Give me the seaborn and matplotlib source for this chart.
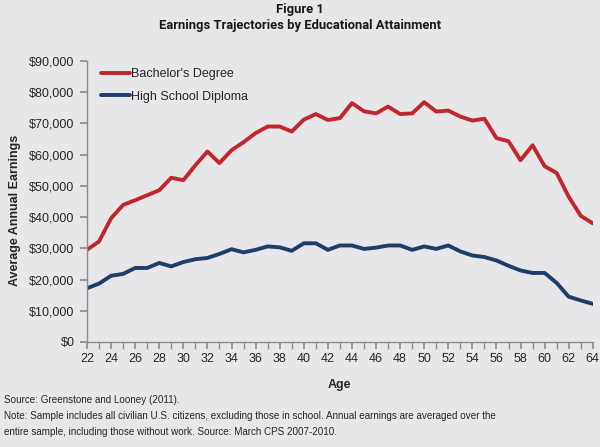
import matplotlib
matplotlib.use("Agg")
import matplotlib.pyplot as plt
import seaborn as sns
import pandas as pd
import numpy as np
from matplotlib.ticker import FuncFormatter, MultipleLocator

ages = list(range(22, 65))
bachelors = [29500, 32200, 39600, 43900, 45400, 47000, 48600, 52600, 51800, 56600,
             61000, 57300, 61400, 64000, 66900, 69000, 69000, 67400, 71200, 73000,
             71100, 71700, 76500, 73900, 73200, 75400, 73000, 73200, 76800, 73800,
             74100, 72200, 70900, 71500, 65300, 64300, 58200, 63000, 56300, 54100,
             46500, 40400, 38000]
high_school = [17200, 18700, 21200, 21800, 23700, 23700, 25300, 24200, 25600, 26500,
               26900, 28200, 29700, 28700, 29500, 30600, 30300, 29200, 31600, 31600,
               29500, 30900, 30900, 29800, 30200, 30900, 30900, 29500, 30600, 29800,
               30900, 29000, 27700, 27200, 26100, 24400, 22900, 22100, 22100, 18900,
               14500, 13300, 12200]
series_names = ["Bachelor's Degree", "High School Diploma"]
colors = ["#c0272d", "#1f3d6b"]

df = pd.DataFrame({
    "Age": ages * 2,
    "Earnings": bachelors + high_school,
    "Series": [series_names[0]] * len(ages) + [series_names[1]] * len(ages),
})

BG = "#e7e7e9"
sns.set_theme(style="white")
plt.rcParams['font.family'] = ['Liberation Sans', 'DejaVu Sans']

fig = plt.figure(figsize=(6, 4.47), dpi=100, facecolor=BG)
ax = fig.add_axes([0.145, 0.235, 0.843, 0.6286], facecolor=BG)

sns.lineplot(data=df, x="Age", y="Earnings", hue="Series", palette=colors,
             linewidth=2.8, ax=ax, legend=True)

ax.set_xlim(22, 64)
ax.set_ylim(0, 90000)
ax.yaxis.set_major_locator(MultipleLocator(10000))
ax.yaxis.set_major_formatter(FuncFormatter(lambda v, p: "$" + format(int(v), ",")))
ax.xaxis.set_major_locator(MultipleLocator(2))
ax.xaxis.set_minor_locator(MultipleLocator(1))

for s in ["top", "right"]:
    ax.spines[s].set_visible(False)
for s in ["left", "bottom"]:
    ax.spines[s].set_color("#8c8c8c")
    ax.spines[s].set_linewidth(1.0)

ax.tick_params(axis="y", which="major", direction="out", length=5, color="#8c8c8c",
               labelsize=9, pad=4, left=True)
ax.tick_params(axis="x", which="both", direction="out", length=5, color="#8c8c8c",
               labelsize=9, pad=3, bottom=True)
ax.grid(False)

ax.set_xlabel("Age", fontsize=9, fontweight="bold", labelpad=10)
ax.set_ylabel("Average Annual Earnings", fontsize=9, fontweight="bold", labelpad=10)
ax.yaxis.set_label_coords(-0.13, 0.47)

leg = ax.legend(loc="upper left", bbox_to_anchor=(0.005, 1.015), frameon=False,
                fontsize=9, handlelength=2.3, handletextpad=0.08, labelspacing=0.85)
for h in leg.get_lines():
    h.set_linewidth(2.8)

title_font = ["Roboto", "DejaVu Sans"]
fig.text(0.5, 1 - 9 / 447, "Figure 1", ha="center", va="center",
         fontsize=9.4, fontweight="bold", family=title_font, color="#1a1a1a")
fig.text(0.5, 1 - 26 / 447, "Earnings Trajectories by Educational Attainment",
         ha="center", va="center", fontsize=9.4, fontweight="bold",
         family=title_font, color="#1a1a1a")

foot = ("Source: Greenstone and Looney (2011).\n"
        "Note: Sample includes all civilian U.S. citizens, excluding those in school. "
        "Annual earnings are averaged over the\n"
        "entire sample, including those without work. Source: March CPS 2007-2010.")
fig.text(4 / 600, 1 - 395 / 447, foot, ha="left", va="top", fontsize=7.1,
         linespacing=1.78)

fig.savefig("out.png", dpi=100, facecolor=BG)
